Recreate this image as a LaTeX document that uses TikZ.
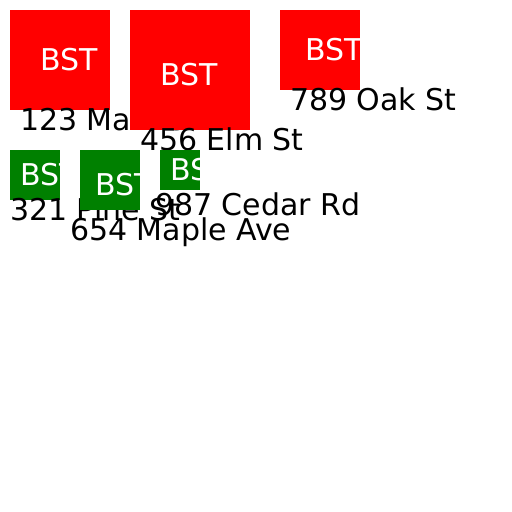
\documentclass[tikz,border=0pt]{standalone}
\usepackage{fontspec}
\setmainfont{DejaVu Sans}
\definecolor{webgreen}{RGB}{0,128,0}
\begin{document}
\begin{tikzpicture}[x=1pt,y=-1pt,
  lbl/.style={anchor=base west, inner sep=0pt, outer sep=0pt, font=\fontsize{30}{36}\selectfont, text=black},
  bst/.style={lbl, text=white},
  box/.style={anchor=north west, inner sep=0pt, outer sep=0pt, draw=none},
  redbox/.style={box, fill=red},
  greenbox/.style={box, fill=webgreen}]
\useasboundingbox[fill=white] (0,0) rectangle (512,512);
% item 1
\node[redbox, minimum width=100pt, minimum height=100pt] (r1) at (10,10) {};
\node[bst] (b1) at (40,70) {BST};
\node[lbl] (l1) at (20,130.5) {123 Main St};
% item 2
\node[redbox, minimum width=120pt, minimum height=120pt] (r2) at (130,10) {};
\node[bst] (b2) at (160,85) {BST};
\node[lbl] (l2) at (140,150.5) {456 Elm St};
% item 3
\node[redbox, minimum width=80pt, minimum height=80pt] (r3) at (280,10) {};
\node[bst] (b3) at (305,60) {BST};
\node[lbl] (l3) at (290,110.5) {789 Oak St};
% item 4
\node[greenbox, minimum width=50pt, minimum height=50pt] (r4) at (10,150) {};
\node[bst] (b4) at (20,185) {BST};
\node[lbl] (l4) at (10,220.5) {321 Pine St};
% item 5
\node[greenbox, minimum width=60pt, minimum height=60pt] (r5) at (80,150) {};
\node[bst] (b5) at (95,195) {BST};
\node[lbl] (l5) at (70,240.5) {654 Maple Ave};
% item 6
\node[greenbox, minimum width=40pt, minimum height=40pt] (r6) at (160,150) {};
\node[bst] (b6) at (170,180) {BST};
\node[lbl] (l6) at (155,215.5) {987 Cedar Rd};
\end{tikzpicture}
\end{document}
